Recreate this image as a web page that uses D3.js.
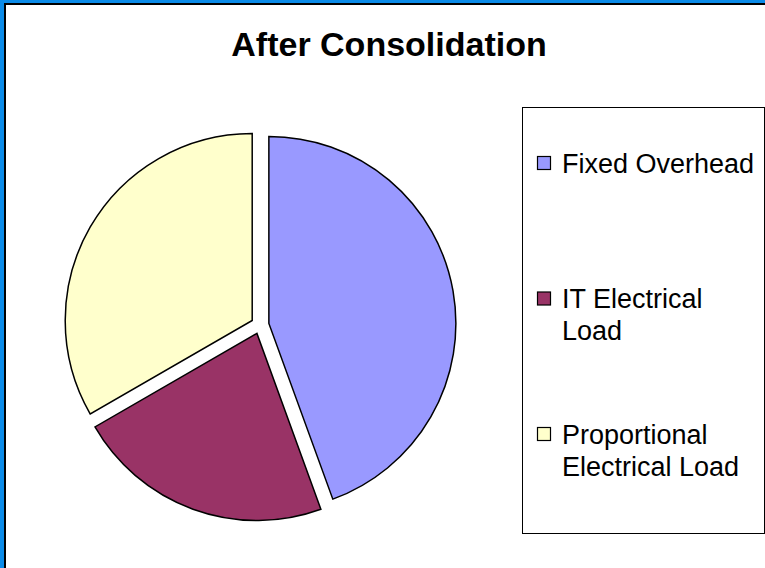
<!DOCTYPE html>
<html>
<head>
<meta charset="utf-8">
<script src="https://cdn.jsdelivr.net/npm/d3@7/dist/d3.min.js"></script>
<style>
  html, body { margin: 0; padding: 0; background: #fff; }
  svg { display: block; font-family: "Liberation Sans", Arial, sans-serif; }
</style>
</head>
<body>
<svg id="chart" width="765" height="568"></svg>
<script>
// ---- data ----
const title = "After Consolidation";
const categories = ["Fixed Overhead", "IT Electrical Load", "Proportional Electrical Load"];
const values = [44.4, 22.2, 33.3];
const colors = ["#9999FF", "#993366", "#FFFFCC"];

// ---- layout ----
const W = 765, H = 568;
const svg = d3.select("#chart");

// outer frame (blue band + black line on left/top)
svg.append("rect").attr("x", 0).attr("y", 0).attr("width", W).attr("height", H).attr("fill", "#fff");
svg.append("rect").attr("x", 0).attr("y", 0).attr("width", 4).attr("height", H).attr("fill", "#0B8BE8");
svg.append("rect").attr("x", 0).attr("y", 0).attr("width", W).attr("height", 3).attr("fill", "#0B8BE8");
svg.append("path")
  .attr("d", `M5,${H} L5,4 L${W},4`)
  .attr("fill", "none").attr("stroke", "#000").attr("stroke-width", 2);

// title
svg.append("text")
  .attr("x", 389).attr("y", 56)
  .attr("text-anchor", "middle")
  .attr("font-size", 34).attr("font-weight", "bold")
  .attr("fill", "#000")
  .text(title);

// pie
const cx = 260, cy = 325, R = 187, explode = 9;
const pie = d3.pie().sort(null).value(d => d.v);
const arc = d3.arc().innerRadius(0).outerRadius(R);
const data = categories.map((c, i) => ({ c, v: values[i], col: colors[i] }));
const arcs = pie(data);

const g = svg.append("g").attr("transform", `translate(${cx},${cy})`);
g.selectAll("path.slice").data(arcs).join("path")
  .attr("class", "slice")
  .attr("d", arc)
  .attr("transform", d => {
    const a = (d.startAngle + d.endAngle) / 2;
    return `translate(${Math.sin(a) * explode},${-Math.cos(a) * explode})`;
  })
  .attr("fill", d => d.data.col)
  .attr("stroke", "#000")
  .attr("stroke-width", 1.5)
  .attr("stroke-linejoin", "miter");

// legend
const lx = 522, ly = 107, lw = 242, lh = 426;
svg.append("rect")
  .attr("x", lx + 0.5).attr("y", ly + 0.5)
  .attr("width", lw).attr("height", lh)
  .attr("fill", "#fff").attr("stroke", "#000").attr("stroke-width", 1);

const fs = 27, lineH = 32, maxW = 198;
const yPos = d3.scalePoint().domain(categories).range([ly + 56, ly + 327]);

// measure helper for wrapping
const meas = svg.append("text").attr("font-size", fs).attr("visibility", "hidden");
function wrap(label) {
  const words = label.split(" ");
  const lines = [];
  let cur = "";
  words.forEach(w => {
    const test = cur ? cur + " " + w : w;
    meas.text(test);
    if (cur && meas.node().getComputedTextLength() > maxW) {
      lines.push(cur); cur = w;
    } else cur = test;
  });
  if (cur) lines.push(cur);
  return lines;
}

const items = svg.selectAll("g.item").data(data).join("g").attr("class", "item");
items.append("rect")
  .attr("x", 537.5)
  .attr("y", d => yPos(d.c) - 6.5)
  .attr("width", 13).attr("height", 13)
  .attr("fill", d => d.col)
  .attr("stroke", "#000").attr("stroke-width", 1.2);
items.each(function (d) {
  const lines = wrap(d.c);
  const t = d3.select(this).append("text")
    .attr("font-size", fs).attr("fill", "#000");
  lines.forEach((ln, i) => {
    t.append("tspan")
      .attr("x", 562)
      .attr("y", yPos(d.c) + i * lineH)
      .attr("dy", "0.36em")
      .text(ln);
  });
});
meas.remove();
</script>
</body>
</html>
